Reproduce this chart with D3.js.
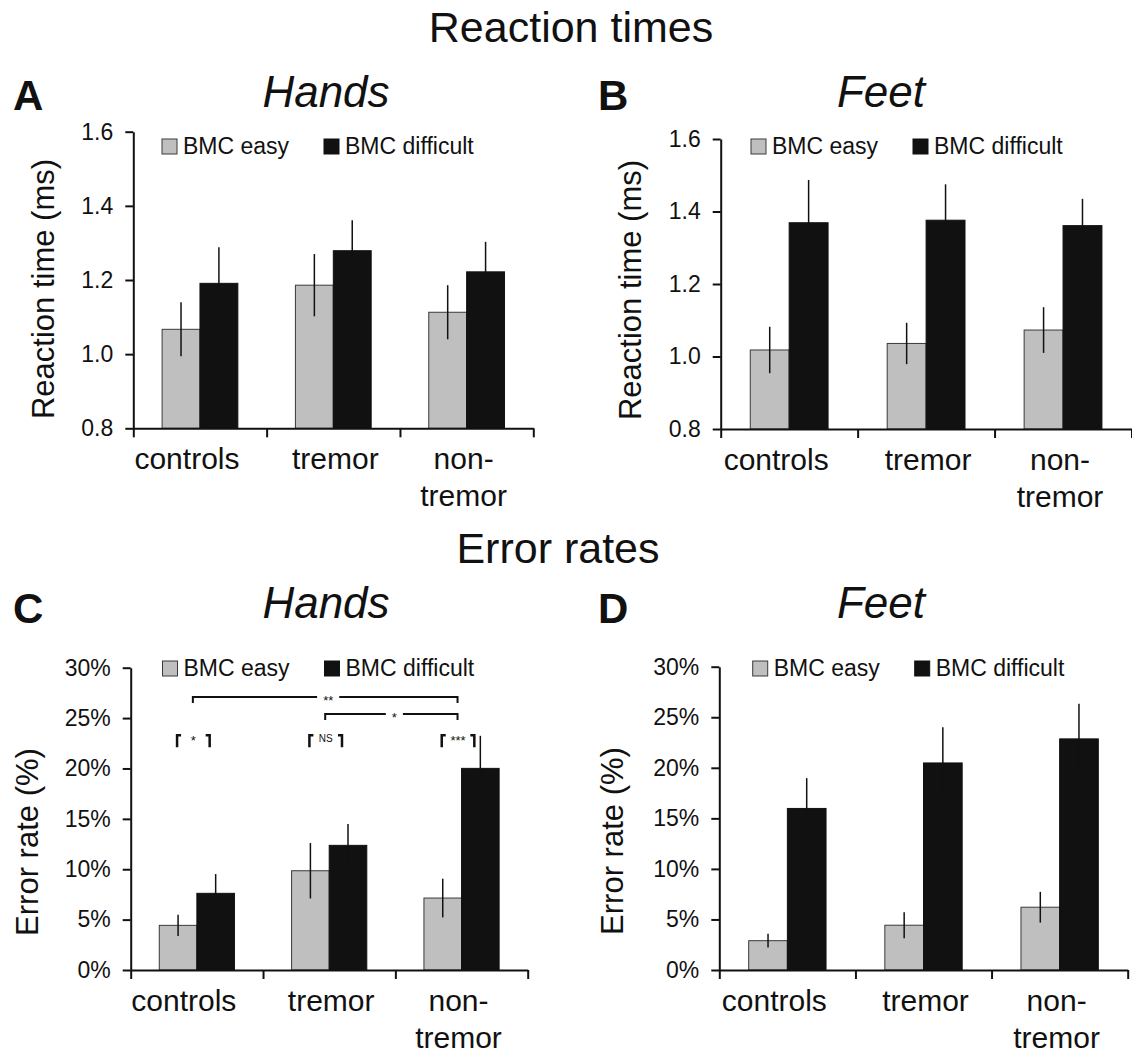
<!DOCTYPE html>
<html>
<head>
<meta charset="utf-8">
<script src="https://cdn.jsdelivr.net/npm/d3@7"></script>
<style>
body { margin: 0; background: #fff; }
svg text { font-family: 'Liberation Sans', Arial, sans-serif; fill: #111; }
</style>
</head>
<body>
<div id="chart"></div>
<script>
const categories = ['controls', 'tremor', 'non-tremor'];
const series = ['BMC easy', 'BMC difficult'];

// reaction times
const rtHandsEasy = [1.067, 1.186, 1.113];
const rtHandsEasyErr = [0.073, 0.084, 0.073];
const rtHandsDiff = [1.191, 1.279, 1.222];
const rtHandsDiffErr = [0.097, 0.082, 0.081];

const rtFeetEasy = [1.018, 1.036, 1.073];
const rtFeetEasyErr = [0.064, 0.057, 0.063];
const rtFeetDiff = [1.369, 1.376, 1.361];
const rtFeetDiffErr = [0.118, 0.099, 0.074];

// error rates (%)
const erHandsEasy = [4.43, 9.85, 7.14];
const erHandsEasyErr = [1.06, 2.75, 1.92];
const erHandsDiff = [7.61, 12.37, 20.01];
const erHandsDiffErr = [1.91, 2.11, 3.23];

const erFeetEasy = [2.9, 4.43, 6.21];
const erFeetEasyErr = [0.68, 1.29, 1.52];
const erFeetDiff = [15.98, 20.48, 22.86];
const erFeetDiffErr = [3.0, 3.53, 3.47];

const rtTicks = [0.8, 1.0, 1.2, 1.4, 1.6];
const erTicks = [0, 5, 10, 15, 20, 25, 30];

// significance marks, panel C
const withinSig = ['*', 'NS', '***'];
const withinLevel = 23.3;
const betweenSig = [
	{ from: 'controls', to: 'non-tremor', label: '**', level: 27.1 },
	{ from: 'tremor', to: 'non-tremor', label: '*', level: 25.4 }
];

const W = 1132, H = 1055;
const colors = ['#bfbfbf', '#111111'];

const svg = d3.select('#chart').append('svg')
	.attr('width', W)
	.attr('height', H);

const rtFmt = d3.format('.1f');
const erFmt = d => d + '%';

const panels = [
	{ letter: 'A', title: 'Hands', yTitle: 'Reaction time (ms)',
		easy: rtHandsEasy, easyErr: rtHandsEasyErr, diff: rtHandsDiff, diffErr: rtHandsDiffErr,
		domain: [0.8, 1.6], ticks: rtTicks, fmt: rtFmt,
		left: 133.3, right: 533.3, top: 131.7, bottom: 428.3,
		letterX: 13, letterY: 110, titleX: 326, titleY: 106.7,
		yTitleX: 54, yTitleY: 289, legX: 162, legY: 139 },
	{ letter: 'B', title: 'Feet', yTitle: 'Reaction time (ms)',
		easy: rtFeetEasy, easyErr: rtFeetEasyErr, diff: rtFeetDiff, diffErr: rtFeetDiffErr,
		domain: [0.8, 1.6], ticks: rtTicks, fmt: rtFmt,
		left: 720.7, right: 1131.5, top: 139, bottom: 429,
		letterX: 598, letterY: 110, titleX: 881, titleY: 106.7,
		yTitleX: 641, yTitleY: 290, legX: 751, legY: 139 },
	{ letter: 'C', title: 'Hands', yTitle: 'Error rate (%)',
		easy: erHandsEasy, easyErr: erHandsEasyErr, diff: erHandsDiff, diffErr: erHandsDiffErr,
		domain: [0, 30], ticks: erTicks, fmt: erFmt,
		left: 130.7, right: 527.7, top: 667.7, bottom: 970,
		letterX: 13, letterY: 623, titleX: 326, titleY: 618,
		yTitleX: 38, yTitleY: 842, legX: 162.5, legY: 661, sig: true },
	{ letter: 'D', title: 'Feet', yTitle: 'Error rate (%)',
		easy: erFeetEasy, easyErr: erFeetEasyErr, diff: erFeetDiff, diffErr: erFeetDiffErr,
		domain: [0, 30], ticks: erTicks, fmt: erFmt,
		left: 719.3, right: 1127.7, top: 666.7, bottom: 970,
		letterX: 598, letterY: 623, titleX: 881, titleY: 618,
		yTitleX: 623, yTitleY: 841, legX: 752.7, legY: 661 }
];

// section headings
svg.append('text')
	.attr('x', 571).attr('y', 42)
	.attr('text-anchor', 'middle')
	.style('font-size', '43px')
	.text('Reaction times');

svg.append('text')
	.attr('x', 558).attr('y', 563)
	.attr('text-anchor', 'middle')
	.style('font-size', '43px')
	.text('Error rates');

function styleAxis(a) {
	a.attr('font-size', null).attr('font-family', null);
	a.select('.domain').attr('stroke', '#111').attr('stroke-width', 2);
	a.selectAll('.tick line').attr('stroke', '#111').attr('stroke-width', 2);
	a.selectAll('.tick text').style('font-size', '23px').attr('fill', '#111');
}

function drawPanel(p) {
	const g = svg.append('g');

	const y = d3.scaleLinear().domain(p.domain).range([p.bottom, p.top]);
	const x0 = d3.scaleBand().domain(categories).range([p.left, p.right]);
	const x1 = d3.scaleBand().domain(series).range([0, x0.bandwidth()])
		.paddingInner(0).paddingOuter(0.76);
	const xb = d3.scaleLinear().domain([0, categories.length]).range([p.left, p.right]);

	// letter + title
	g.append('text')
		.attr('x', p.letterX).attr('y', p.letterY)
		.style('font-size', '42px').style('font-weight', 'bold')
		.text(p.letter);
	g.append('text')
		.attr('x', p.titleX).attr('y', p.titleY)
		.attr('text-anchor', 'middle')
		.style('font-size', '44px').style('font-style', 'italic')
		.text(p.title);

	// y title
	g.append('text')
		.attr('transform', `translate(${p.yTitleX},${p.yTitleY}) rotate(-90)`)
		.attr('text-anchor', 'middle')
		.style('font-size', '31px')
		.text(p.yTitle);

	const rows = categories.map((c, i) => ({
		cat: c,
		vals: [
			{ s: series[0], v: p.easy[i], e: p.easyErr[i] },
			{ s: series[1], v: p.diff[i], e: p.diffErr[i] }
		]
	}));

	const grp = g.selectAll('.grp')
		.data(rows)
		.enter()
		.append('g')
		.attr('transform', d => `translate(${x0(d.cat)},0)`);

	grp.selectAll('rect')
		.data(d => d.vals)
		.enter()
		.append('rect')
		.attr('x', d => x1(d.s))
		.attr('width', x1.bandwidth())
		.attr('y', d => y(d.v))
		.attr('height', d => y(p.domain[0]) - y(d.v))
		.attr('fill', (d, i) => colors[i])
		.attr('stroke', (d, i) => i === 0 ? '#3a3a3a' : '#111')
		.attr('stroke-width', 1);

	// error bars
	grp.selectAll('line.err')
		.data(d => d.vals)
		.enter()
		.append('line')
		.classed('err', true)
		.attr('x1', d => x1(d.s) + x1.bandwidth() / 2)
		.attr('x2', d => x1(d.s) + x1.bandwidth() / 2)
		.attr('y1', d => y(d.v - d.e))
		.attr('y2', d => y(d.v + d.e))
		.attr('stroke', '#111')
		.attr('stroke-width', 1.5);

	// axes
	g.append('g')
		.attr('transform', `translate(${p.left},0)`)
		.call(d3.axisLeft(y).tickValues(p.ticks).tickFormat(p.fmt)
			.tickSize(8).tickSizeOuter(0).tickPadding(12))
		.call(styleAxis);

	g.append('g')
		.attr('transform', `translate(0,${p.bottom})`)
		.call(d3.axisBottom(xb).tickValues(d3.range(categories.length + 1))
			.tickFormat('').tickSize(9).tickSizeOuter(0))
		.call(styleAxis);

	// category labels, hyphenated ones wrap like the original
	const labelShift = [-13, 2, -3];
	categories.forEach((c, i) => {
		const parts = c.includes('-') ? [c.split('-')[0] + '-', c.split('-')[1]] : [c];
		const t = g.append('text')
			.attr('text-anchor', 'middle')
			.style('font-size', '30px');
		parts.forEach((line, j) => {
			t.append('tspan')
				.attr('x', x0(c) + x0.bandwidth() / 2 + labelShift[i])
				.attr('y', p.bottom + 41 + j * 37)
				.text(line);
		});
	});

	// legend
	const leg = g.append('g').attr('transform', `translate(${p.legX},${p.legY})`);
	series.forEach((s, i) => {
		const lx = i * 162;
		leg.append('rect')
			.attr('x', lx).attr('y', 0)
			.attr('width', 15).attr('height', 15)
			.attr('fill', colors[i])
			.attr('stroke', i === 0 ? '#3a3a3a' : '#111')
			.attr('stroke-width', 1);
		leg.append('text')
			.attr('x', lx + 21).attr('y', 15)
			.style('font-size', '23px')
			.text(s);
	});

	if (p.sig) drawSig(g, p, x0, x1, y);
}

function drawSig(g, p, x0, x1, y) {
	const center = c => x0(c) + x0.bandwidth() / 2;
	const barMid = (c, s) => x0(c) + x1(s) + x1.bandwidth() / 2;

	// between-group brackets
	betweenSig.forEach(b => {
		const xa = center(b.from) - 4;
		const xz = center(b.to) - 4;
		const yy = y(b.level);
		g.append('path')
			.attr('d', `M${xa},${yy + 6}V${yy}H${xz}V${yy + 6}`)
			.attr('fill', 'none')
			.attr('stroke', '#111')
			.attr('stroke-width', 2);
		const mid = (xa + xz) / 2 + 3;
		const t = g.append('text')
			.attr('x', mid).attr('y', yy + 8)
			.attr('text-anchor', 'middle')
			.style('font-size', '13px')
			.text(b.label);
		const w = t.node().getComputedTextLength();
		g.insert('rect', function () { return t.node(); })
			.attr('x', mid - w / 2 - 6).attr('y', yy - 3)
			.attr('width', w + 12).attr('height', 6)
			.attr('fill', '#fff');
	});

	// within-group brackets
	categories.forEach((c, i) => {
		const xl = barMid(c, series[0]) - 1;
		const xr = barMid(c, series[1]) - 6;
		const yy = y(withinLevel);
		g.append('path')
			.attr('d', `M${xl},${yy + 12}V${yy}H${xl + 4}M${xr - 4},${yy}H${xr}V${yy + 12}`)
			.attr('fill', 'none')
			.attr('stroke', '#111')
			.attr('stroke-width', 2.5);
		g.append('text')
			.attr('x', (xl + xr) / 2).attr('y', withinSig[i] === 'NS' ? yy + 7 : yy + 10)
			.attr('text-anchor', 'middle')
			.style('font-size', withinSig[i] === 'NS' ? '10px' : '13px')
			.text(withinSig[i]);
	});
}

panels.forEach(drawPanel);
</script>
</body>
</html>
